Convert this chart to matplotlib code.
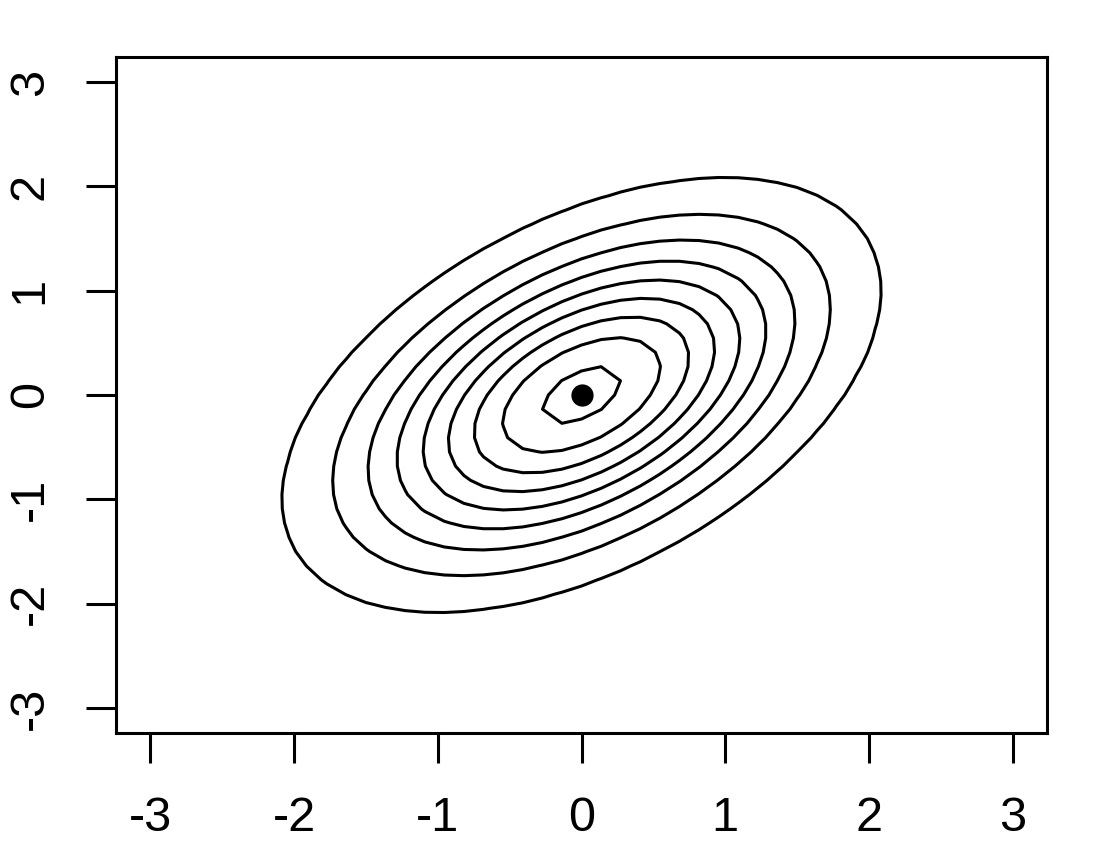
import numpy as np
import matplotlib
matplotlib.use("Agg")
import matplotlib.pyplot as plt

# bivariate normal: mean, sd, correlation
mu = [0.0, 0.0]
sd = [0.985, 0.985]
rho = 0.48
levels = [0.02, 0.04, 0.06, 0.08, 0.10, 0.12, 0.14, 0.16, 0.18]
ticks = [-3, -2, -1, 0, 1, 2, 3]
grid_n = 45   # fairly coarse grid, gives the jagged inner ring

plt.rcParams['font.family'] = ['Liberation Sans', 'DejaVu Sans']

g = np.linspace(-3, 3, grid_n)
X, Y = np.meshgrid(g, g)
zx = (X - mu[0]) / sd[0]
zy = (Y - mu[1]) / sd[1]
Q = (zx**2 - 2*rho*zx*zy + zy**2) / (1 - rho**2)
Z = np.exp(-Q/2) / (2*np.pi*sd[0]*sd[1]*np.sqrt(1 - rho**2))

fig = plt.figure(figsize=(11.04, 8.49), dpi=100)
ax = fig.add_axes([116/1104, 1-733/849, (1047-116)/1104, (733-57)/849])
ax.contour(X, Y, Z, levels=levels, colors='black', linewidths=2.2)
ax.plot(mu[0], mu[1], 'o', color='black', markersize=15)

ax.set_xlim(-3.24, 3.24)
ax.set_ylim(-3.24, 3.24)
ax.set_xticks(ticks)
ax.set_yticks(ticks)
ax.set_xticklabels([str(t) for t in ticks])
ax.set_yticklabels([str(t) for t in ticks], rotation=90, va='center')
ax.tick_params(length=21.6, width=2.2, labelsize=35, pad=24)
for s in ax.spines.values():
    s.set_linewidth(2.2)

fig.savefig("out.png", dpi=100)
